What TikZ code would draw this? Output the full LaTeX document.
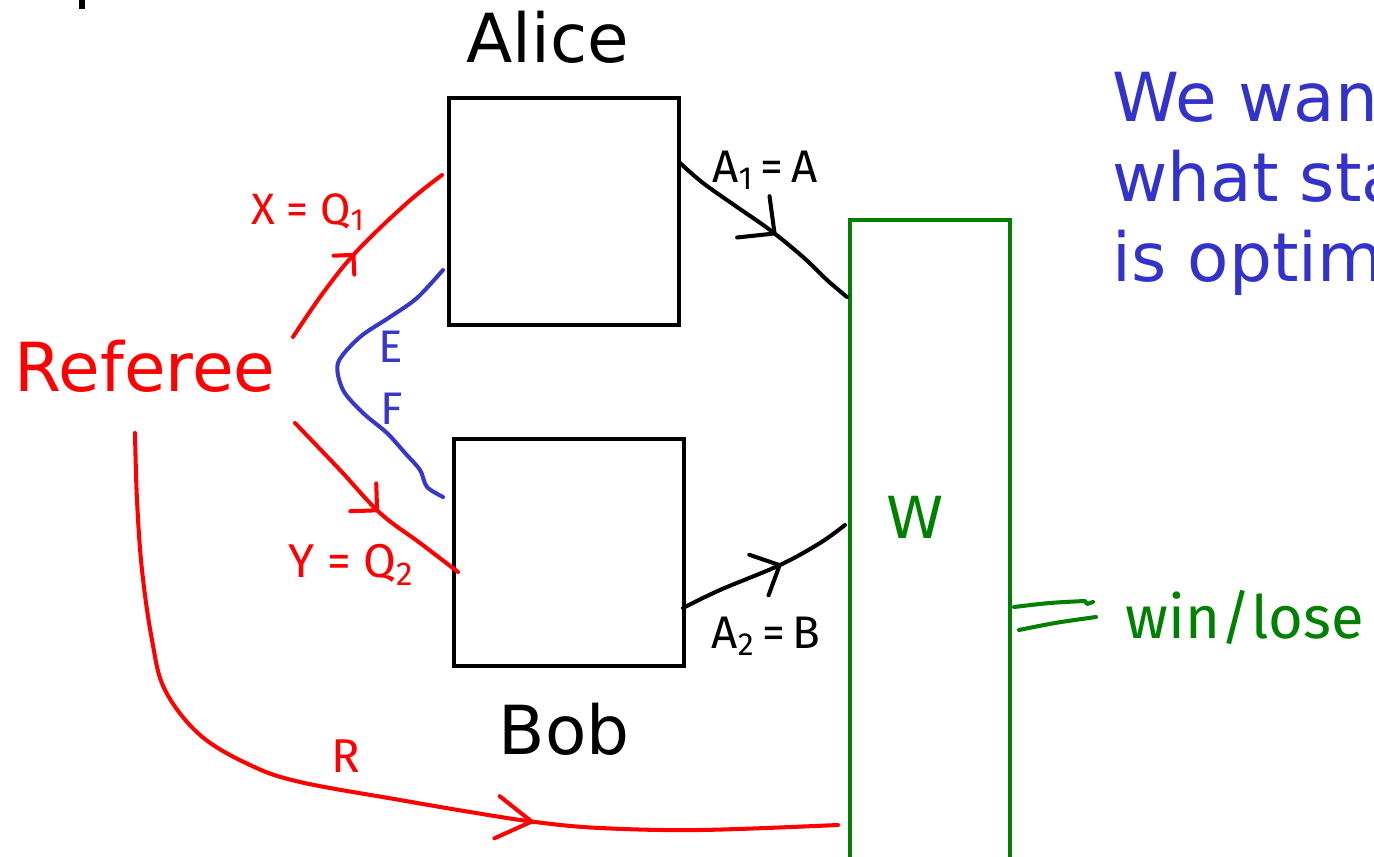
\documentclass[tikz,border=0pt]{standalone}
\usepackage{fontspec}
\setmainfont{DejaVu Sans}
\newfontfamily\handfont{Fira Sans}
\usetikzlibrary{arrows.meta,decorations.markings}
\definecolor{penred}{RGB}{255,0,0}
\definecolor{penblue}{RGB}{55,55,200}
\definecolor{textblue}{RGB}{51,51,204}
\definecolor{pengreen}{RGB}{0,128,0}
\begin{document}
\begin{tikzpicture}[x=0.02cm,y=-0.02cm,
  box/.style={draw=black,line width=2.1pt,minimum width=4.6cm,minimum height=4.54cm,inner sep=0pt},
  bigtext/.style={font=\fontsize{38.5}{46}\selectfont,inner sep=0pt,anchor=base},
  pen/.style={line width=2.3pt,line cap=round,line join=round},
  hand/.style={font=\handfont\fontsize{#1}{#1}\selectfont,inner sep=0pt},
  barb/.style n args={3}{postaction={decorate},decoration={markings,
      mark=at position #1 with {\arrow[line width=2.3pt]{Straight Barb[length=#2,width=#3,round]}}}},
]
\useasboundingbox (0,0) rectangle (1374,857);
\clip (0,0) rectangle (1374,857);

% descender of a line cut off above
\fill (79,0) rectangle (85,9);

% players and the referee
\node[box] (alice) at (564,211.5) {};
\node[box] (bob) at (569,552.5) {};
\node[draw=pengreen,line width=2.1pt,minimum width=3.2cm,minimum height=13cm,inner sep=0pt] (wbox) at (930,545) {};

\node[bigtext] (alicelabel) at (548,63) {Alice};
\node[bigtext] (boblabel) at (564,755) {Bob};
\node[bigtext,text=penred] (referee) at (145,392) {Referee};
\node[font=\fontsize{33}{40}\selectfont,inner sep=0pt,anchor=base,text=pengreen] (wlabel) at (915,539) {W};

% remark on the right
\node[bigtext,anchor=base west,text=textblue] (q1) at (1112,122) {We wan};
\node[bigtext,anchor=base west,text=textblue] (q2) at (1112,202) {what sta};
\node[bigtext,anchor=base west,text=textblue] (q3) at (1112,282) {is optim};

% end points of the pen strokes
\coordinate (xs) at (293,337);
\coordinate (xe) at (442,175);
\coordinate (es) at (443,270);
\coordinate (fe) at (443,497);
\coordinate (ys) at (295,423);
\coordinate (ye) at (458,572);
\coordinate (rs) at (135,433);
\coordinate (re) at (838,825);
\coordinate (as) at (680,163);
\coordinate (ae) at (847,297);
\coordinate (bs) at (683,608);
\coordinate (be) at (845,525);

% question to Alice
\draw[pen,penred,barb={0.47}{0.28cm}{0.56cm}] plot[smooth,tension=0.6] coordinates {(xs) (323,293) (357,251) (407,203) (xe)};
% shared entanglement
\draw[pen,penblue] plot[smooth,tension=0.5] coordinates {(es) (417,298) (390,317) (360,337) (338,363) (343,390) (363,413) (387,433) (405,453) (420,470) (427,487) (fe)};
% question to Bob
\draw[pen,penred,barb={0.55}{0.38cm}{0.76cm}] plot[smooth,tension=0.6] coordinates {(ys) (340,470) (380,513) (420,543) (ye)};
% referee's private information
\draw[pen,penred,barb={0.686}{0.7cm}{0.85cm}] plot[smooth,tension=0.6] coordinates {(rs) (137,500) (142,570) (152,640) (165,690) (200,735) (250,765) (300,782) (400,800) (470,812) (535,822) (600,828) (700,830) (re)};
% answers
\draw[pen,black,barb={0.56}{0.54cm}{1.05cm}] plot[smooth,tension=0.6] coordinates {(as) (703,183) (737,207) (770,230) (803,257) (827,280) (ae)};
\draw[pen,black,barb={0.59}{0.46cm}{0.9cm}] plot[smooth,tension=0.6] coordinates {(bs) (720,590) (780,565) (820,543) (be)};

% output of the predicate
\coordinate (o1s) at (1014,607);
\coordinate (o1e) at (1093,602);
\coordinate (o2s) at (1019,630);
\coordinate (o2e) at (1096,617);
\draw[pen,pengreen] plot[smooth] coordinates {(o1s) (1050,603) (1085,601)} -- (1087,604) -- (o1e);
\draw[pen,pengreen] plot[smooth] coordinates {(o2s) (1055,623) (o2e)};

% labels
\node[hand=25,text=penred] (xlab) at (308,212) {X = Q\textsubscript{1}};
\node[hand=27,text=penred] (ylab) at (351,565) {Y = Q\textsubscript{2}};
\node[hand=27,text=penred] (rlab) at (346,756) {R};
\node[hand=26,text=penblue] (elab) at (391,347) {E};
\node[hand=26,text=penblue] (flab) at (392,409) {F};
\node[hand=26] (a1lab) at (765,170) {A\textsubscript{1}\,=\,A};
\node[hand=26] (a2lab) at (766,636) {A\textsubscript{2}\,=\,B};
\node[hand=34,text=pengreen] (winlab) at (1245,618) {win/lose};
\end{tikzpicture}
\end{document}
